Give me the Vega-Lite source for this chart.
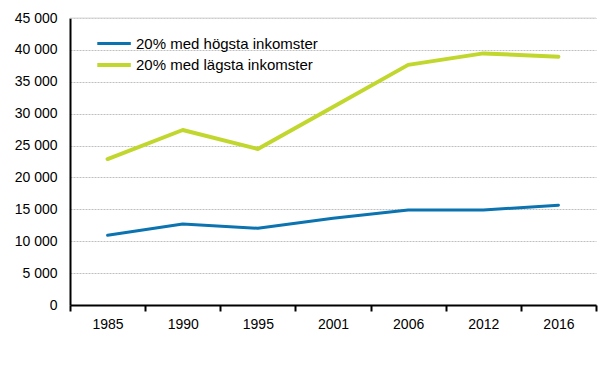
{
  "$schema": "https://vega.github.io/schema/vega-lite/v6.json",
  "width": 526,
  "height": 287,
  "autosize": {"type": "none"},
  "padding": {"left": 70, "top": 18, "right": 18, "bottom": 73},
  "background": "white",
  "config": {
    "view": {"stroke": null},
    "font": "Liberation Sans"
  },
  "data": {
    "values": [
      {"year": "1985", "series": "20% med högsta inkomster", "value": 10930},
      {"year": "1990", "series": "20% med högsta inkomster", "value": 12700},
      {"year": "1995", "series": "20% med högsta inkomster", "value": 12020},
      {"year": "2001", "series": "20% med högsta inkomster", "value": 13590},
      {"year": "2006", "series": "20% med högsta inkomster", "value": 14900},
      {"year": "2012", "series": "20% med högsta inkomster", "value": 14880},
      {"year": "2016", "series": "20% med högsta inkomster", "value": 15650},
      {"year": "1985", "series": "20% med lägsta inkomster", "value": 22890},
      {"year": "1990", "series": "20% med lägsta inkomster", "value": 27440},
      {"year": "1995", "series": "20% med lägsta inkomster", "value": 24460},
      {"year": "2001", "series": "20% med lägsta inkomster", "value": 31050},
      {"year": "2006", "series": "20% med lägsta inkomster", "value": 37650},
      {"year": "2012", "series": "20% med lägsta inkomster", "value": 39450},
      {"year": "2016", "series": "20% med lägsta inkomster", "value": 38930}
    ]
  },
  "layer": [
    {
      "mark": {"type": "rule", "color": "#d9d9d9", "strokeWidth": 1},
      "data": {"values": [{"value": 45000}]},
      "encoding": {
        "y": {
          "field": "value", "type": "quantitative",
          "scale": {"domain": [0, 45000], "nice": false},
          "axis": {
            "title": null, "values": [0, 5000, 10000, 15000, 20000, 25000, 30000, 35000, 40000, 45000],
            "labelExpr": "replace(format(datum.value, ','), /,/g, ' ')",
            "domainColor": "#000000", "domainWidth": 2, "ticks": false, "labelPadding": 13,
            "grid": true, "gridColor": "#bfbfbf", "gridDash": [2, 1], "gridWidth": 1,
            "labelFont": "Liberation Sans", "labelFontSize": 14, "labelColor": "#000000", "labelOverlap": false
          }
        }
      }
    },
    {
      "mark": {"type": "line", "strokeCap": "round", "strokeJoin": "round"},
      "encoding": {
        "x": {
          "field": "year", "type": "ordinal",
          "scale": {"paddingInner": 0, "paddingOuter": 0},
          "axis": {
            "title": null, "labelAngle": 0, "domainColor": "#000000", "domainWidth": 2,
            "ticks": true, "tickBand": "extent", "tickColor": "#000000", "tickWidth": 2, "tickSize": 6,
            "labelPadding": 6, "grid": false,
            "labelFont": "Liberation Sans", "labelFontSize": 14, "labelColor": "#000000"
          }
        },
        "y": {
          "field": "value", "type": "quantitative",
          "scale": {"domain": [0, 45000], "nice": false},
          "axis": {
            "title": null, "values": [0, 5000, 10000, 15000, 20000, 25000, 30000, 35000, 40000, 45000],
            "labelExpr": "replace(format(datum.value, ','), /,/g, ' ')",
            "domainColor": "#000000", "domainWidth": 2, "ticks": false, "labelPadding": 13,
            "grid": true, "gridColor": "#bfbfbf", "gridDash": [2, 1], "gridWidth": 1,
            "labelFont": "Liberation Sans", "labelFontSize": 14, "labelColor": "#000000", "labelOverlap": false
          }
        },
        "color": {
          "field": "series", "type": "nominal",
          "scale": {"domain": ["20% med högsta inkomster", "20% med lägsta inkomster"], "range": ["#0a73b0", "#c1d72e"]},
          "legend": {
            "title": null, "orient": "none", "legendX": 25, "legendY": 17,
            "symbolType": "M-1,0H4", "symbolSize": 180, "symbolStrokeWidth": 3.5,
            "rowPadding": 4, "labelOffset": 23, "labelLimit": 400,
            "labelFont": "Liberation Sans", "labelFontSize": 15, "labelColor": "#000000"
          }
        },
        "strokeWidth": {
          "field": "series", "type": "nominal",
          "scale": {"domain": ["20% med högsta inkomster", "20% med lägsta inkomster"], "range": [3, 4]},
          "legend": null
        }
      }
    }
  ]
}
